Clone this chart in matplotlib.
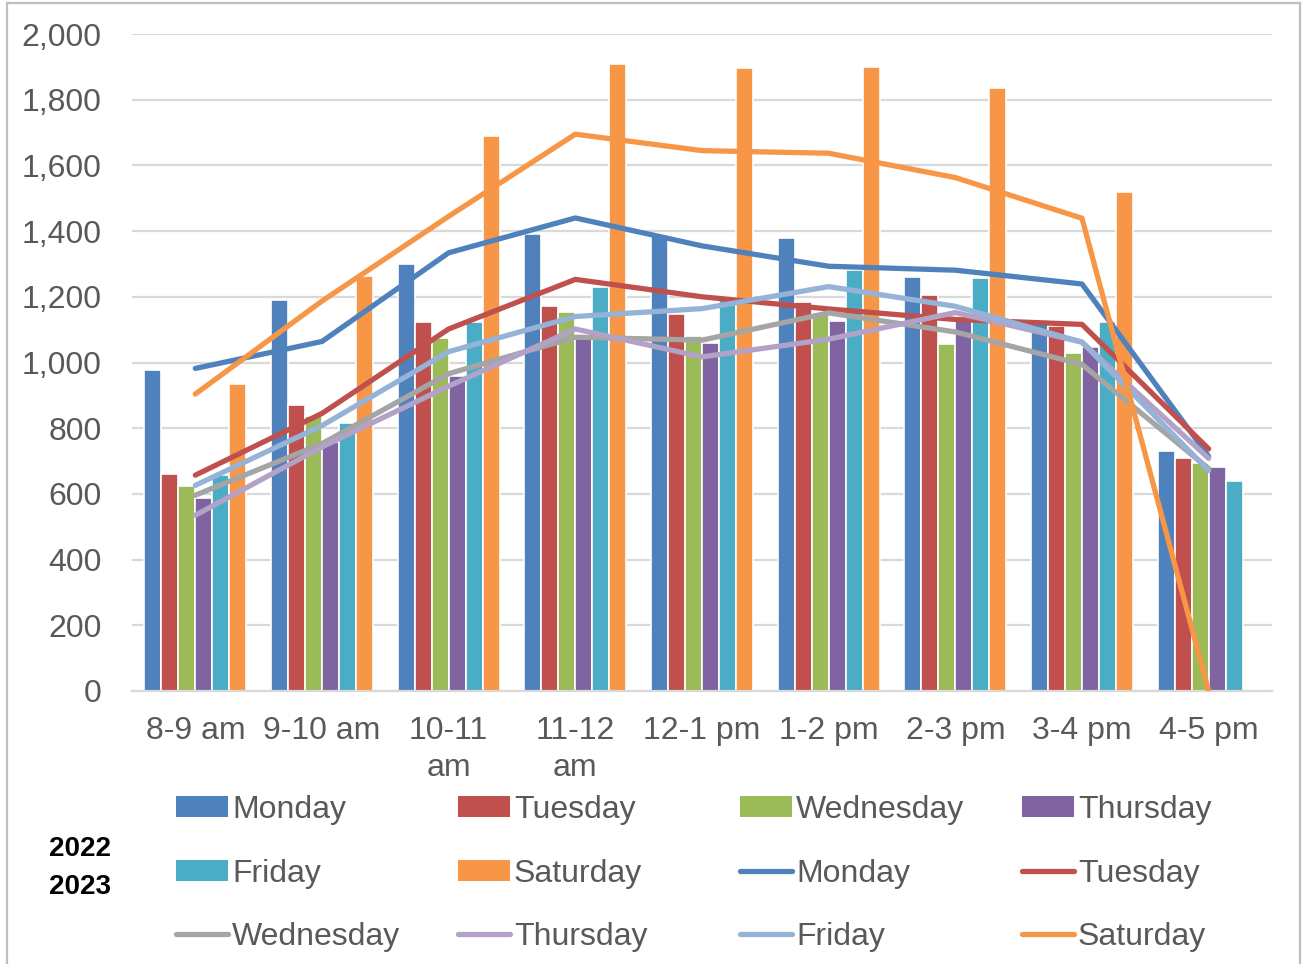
import matplotlib
matplotlib.use("Agg")
import matplotlib.pyplot as plt
import numpy as np
from matplotlib.patches import Patch
from matplotlib.lines import Line2D

categories = ["8-9 am", "9-10 am", "10-11\nam", "11-12\nam", "12-1 pm",
              "1-2 pm", "2-3 pm", "3-4 pm", "4-5 pm"]
days = ["Monday", "Tuesday", "Wednesday", "Thursday", "Friday", "Saturday"]

# 2022 (bars)
mon_2022 = [977, 1190, 1300, 1390, 1385, 1378, 1261, 1130, 730]
tue_2022 = [660, 870, 1122, 1172, 1147, 1183, 1205, 1112, 708]
wed_2022 = [624, 837, 1076, 1155, 1081, 1150, 1056, 1029, 693]
thu_2022 = [587, 758, 960, 1075, 1058, 1127, 1128, 1046, 681]
fri_2022 = [657, 817, 1122, 1230, 1199, 1282, 1257, 1122, 639]
sat_2022 = [936, 1263, 1688, 1909, 1897, 1900, 1837, 1518, 3]

# 2023 (lines)
mon_2023 = [982, 1064, 1334, 1440, 1355, 1293, 1281, 1239, 714]
tue_2023 = [657, 845, 1102, 1253, 1200, 1163, 1131, 1116, 737]
wed_2023 = [596, 753, 966, 1077, 1068, 1151, 1093, 994, 677]
thu_2023 = [535, 743, 928, 1102, 1017, 1071, 1152, 1062, 708]
fri_2023 = [626, 808, 1033, 1140, 1164, 1231, 1171, 1062, 671]
sat_2023 = [904, 1187, 1445, 1695, 1645, 1637, 1563, 1439, 0]

bars = [mon_2022, tue_2022, wed_2022, thu_2022, fri_2022, sat_2022]
lines = [mon_2023, tue_2023, wed_2023, thu_2023, fri_2023, sat_2023]

bar_colors = ["#4F81BD", "#C0504D", "#9BBB59", "#8064A2", "#4BACC6", "#F79646"]
line_colors = ["#4F81BD", "#C0504D", "#A5A5A5", "#B3A2C7", "#95B3D7", "#F79646"]

plt.rcParams['font.family'] = ['Liberation Sans', 'DejaVu Sans']
txt_color = "#595959"
FS = 23

fig = plt.figure(figsize=(13.02, 9.64), dpi=100)
W, H = 1302, 964
ax = fig.add_axes([132 / W, 1 - 691 / H, (1272 - 132) / W, (691 - 34) / H])

x = np.arange(len(categories))
step = 0.134
for i, (vals, c) in enumerate(zip(bars, bar_colors)):
    ax.bar(x + (i - 2.5) * step, vals, width=step, color=c,
           edgecolor="white", linewidth=1.2, zorder=2)

for vals, c in zip(lines, line_colors):
    ax.plot(x, vals, color=c, linewidth=3.8, solid_capstyle="round",
            solid_joinstyle="round", zorder=3)

ax.set_xlim(-0.5, len(categories) - 0.5)
ax.set_ylim(0, 2000)
ax.set_yticks(np.arange(0, 2001, 200))
ax.yaxis.set_major_formatter(matplotlib.ticker.FuncFormatter(lambda v, p: f"{int(v):,}"))
ax.set_xticks(x)
ax.set_xticklabels(categories, linespacing=1.3)
ax.grid(axis="y", color="#D9D9D9", linewidth=1.6, zorder=0)
ax.set_axisbelow(True)
for s in ["left", "right", "top"]:
    ax.spines[s].set_visible(False)
ax.spines["bottom"].set_color("#D9D9D9")
ax.spines["bottom"].set_linewidth(1.6)
ax.tick_params(axis="both", length=0, labelsize=FS, colors=txt_color)
ax.tick_params(axis="y", pad=22)
ax.tick_params(axis="x", pad=18)

# Legend: 4 columns, 3 rows, row-wise order
handles = [Patch(facecolor=c, edgecolor="none") for c in bar_colors] + \
          [Line2D([0], [0], color=c, linewidth=3.8, solid_capstyle="round") for c in line_colors]
labels = days + days
col_x = [176, 458, 740, 1022]
for col in range(4):
    hs = [handles[col + 4 * r] for r in range(3)]
    ls = [labels[col + 4 * r] for r in range(3)]
    leg = fig.legend(hs, ls, loc="upper left",
                     bbox_to_anchor=(col_x[col] / W, 1 - 795 / H),
                     frameon=False, fontsize=FS, handlelength=1.63,
                     handleheight=0.62, handletextpad=0.12, labelspacing=1.05,
                     borderpad=0, borderaxespad=0)
    for t in leg.get_texts():
        t.set_color(txt_color)

fig.text(80 / W, 1 - 849 / H, "2022", ha="center", va="center",
         fontsize=20, fontweight="bold", color="black")
fig.text(80 / W, 1 - 887 / H, "2023", ha="center", va="center",
         fontsize=20, fontweight="bold", color="black")

# outer border
bc = "#BFBFBF"
fig.add_artist(Line2D([7 / W, 7 / W], [0, 1 - 3 / H], color=bc, linewidth=1.6,
                      transform=fig.transFigure))
fig.add_artist(Line2D([7 / W, 1300 / W], [1 - 3 / H, 1 - 3 / H], color=bc, linewidth=1.6,
                      transform=fig.transFigure))
fig.add_artist(Line2D([1300 / W, 1300 / W], [0, 1 - 3 / H], color=bc, linewidth=1.6,
                      transform=fig.transFigure))

fig.savefig("out.png", dpi=100)
